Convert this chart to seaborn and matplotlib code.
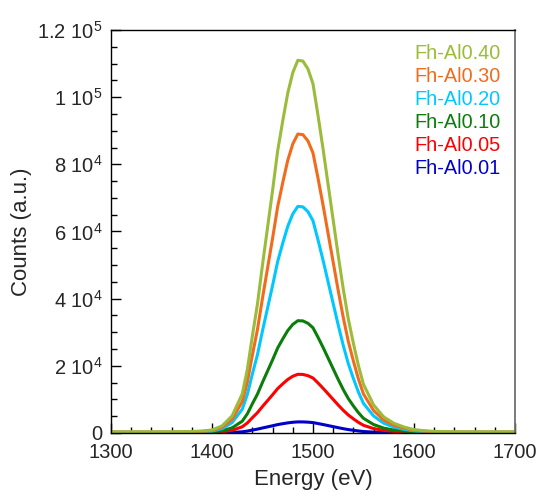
import matplotlib
matplotlib.use("Agg")
import matplotlib.pyplot as plt
from matplotlib.ticker import MultipleLocator, FixedLocator, FixedFormatter
from matplotlib.lines import Line2D
import seaborn as sns
import pandas as pd

# ---- data ----
energy = [1300, 1320, 1340, 1360, 1380, 1390, 1400, 1410, 1420, 1430,
          1435, 1440, 1445, 1450, 1455, 1460, 1465, 1470, 1475, 1480,
          1485, 1490, 1495, 1500, 1505, 1510, 1515, 1520, 1525, 1530,
          1535, 1540, 1545, 1550, 1560, 1570, 1580, 1590, 1600, 1610,
          1620, 1640, 1660, 1680, 1700]

al040 = [330, 330, 330, 330, 450, 560, 890, 2110, 5120, 11680,
         18900, 28910, 38360, 50040, 61160, 72280, 83960, 92850, 101190, 107310,
         110980, 110760, 108420, 103970, 94520, 84510, 73950, 63380, 52820, 42810,
         33920, 26690, 20020, 14460, 8340, 4780, 2890, 1780, 1000, 670,
         450, 330, 330, 330, 330]
al030 = [270, 270, 270, 270, 360, 450, 710, 1700, 4100, 9370,
         15160, 23190, 30770, 40140, 49060, 57980, 67350, 74480, 81170, 86080,
         89020, 88840, 86970, 83400, 75820, 67790, 59320, 50840, 42370, 34340,
         27210, 21410, 16060, 11600, 6690, 3840, 2320, 1430, 800, 540,
         360, 270, 270, 270, 270]
al020 = [200, 200, 200, 200, 270, 340, 540, 1280, 3110, 7100,
         11490, 17580, 23320, 30420, 37180, 43940, 51040, 56450, 61520, 65230,
         67470, 67330, 65910, 63210, 57460, 51380, 44950, 38530, 32110, 26030,
         20620, 16220, 12170, 8790, 5070, 2910, 1760, 1080, 610, 410,
         270, 200, 200, 200, 200]
al010 = [100, 100, 100, 100, 130, 170, 270, 640, 1540, 3520,
         5700, 8710, 11560, 15080, 18430, 21780, 25290, 27970, 30490, 32330,
         33430, 33370, 32660, 31320, 28480, 25460, 22280, 19100, 15910, 12900,
         10220, 8040, 6030, 4360, 2510, 1440, 870, 540, 300, 200,
         130, 100, 100, 100, 100]
al005 = [50, 50, 50, 50, 70, 90, 140, 330, 810, 1840,
         2980, 4550, 6040, 7880, 9630, 11380, 13210, 14610, 15930, 16890,
         17470, 17430, 17060, 16360, 14880, 13300, 11640, 9980, 8310, 6740,
         5340, 4200, 3150, 2280, 1310, 750, 460, 280, 160, 110,
         70, 50, 50, 50, 50]
al001 = [10, 10, 10, 10, 13, 17, 26, 63, 152, 347,
         561, 858, 1139, 1485, 1815, 2145, 2492, 2756, 3003, 3185,
         3293, 3287, 3218, 3086, 2805, 2508, 2195, 1881, 1568, 1271,
         1007, 792, 594, 429, 248, 142, 86, 53, 30, 20,
         13, 10, 10, 10, 10]

series_names = ["Fh-Al0.01", "Fh-Al0.05", "Fh-Al0.10", "Fh-Al0.20", "Fh-Al0.30", "Fh-Al0.40"]
series_values = [al001, al005, al010, al020, al030, al040]
series_colors = ["#0000CC", "#FF0000", "#0A7D0A", "#00C8FF", "#F26B1D", "#9BBB3B"]

y_ticks = [0, 20000, 40000, 60000, 80000, 100000, 120000]
y_tick_labels = ["0", r"2 10$^{4}$", r"4 10$^{4}$", r"6 10$^{4}$",
                 r"8 10$^{4}$", r"1 10$^{5}$", r"1.2 10$^{5}$"]

# ---- build table ----
rows = []
for name, vals in zip(series_names, series_values):
    for e, v in zip(energy, vals):
        rows.append({"Energy": e, "Counts": v, "Sample": name})
df = pd.DataFrame(rows)

sns.set_style("ticks")
plt.rcParams["font.family"] = ["Liberation Sans", "DejaVu Sans"]
plt.rcParams["mathtext.fontset"] = "custom"
plt.rcParams["mathtext.rm"] = "Liberation Sans"
plt.rcParams["mathtext.it"] = "Liberation Sans:italic"
plt.rcParams["mathtext.bf"] = "Liberation Sans:bold"

fig = plt.figure(figsize=(5.37, 4.92), dpi=100)
ax = fig.add_axes([0.2067, 0.12, 0.7523, 0.819])

sns.lineplot(data=df, x="Energy", y="Counts", hue="Sample",
             hue_order=series_names, palette=series_colors,
             linewidth=2.2, ax=ax, legend=False)

ax.set_xlim(1300, 1700)
ax.set_ylim(0, 120000)
ax.xaxis.set_major_locator(MultipleLocator(100))
ax.xaxis.set_minor_locator(MultipleLocator(20))
ax.yaxis.set_major_locator(FixedLocator(y_ticks))
ax.yaxis.set_major_formatter(FixedFormatter(y_tick_labels))
ax.yaxis.set_minor_locator(MultipleLocator(5000))

ax.tick_params(which="both", direction="in", top=False, right=False,
               labelsize=14.5, color="black", width=1.0)
ax.tick_params(which="major", length=7)
ax.tick_params(which="minor", length=4)
ax.tick_params(axis="x", which="major", pad=7)
ax.tick_params(axis="y", which="major", pad=6)

for side in ["left", "bottom", "top"]:
    ax.spines[side].set_color("black")
    ax.spines[side].set_linewidth(1.0)
ax.spines["right"].set_color("#707070")
ax.spines["right"].set_linewidth(1.3)

ax.set_xlabel("Energy (eV)", fontsize=16, labelpad=5)
ax.set_ylabel("Counts (a.u.)", fontsize=16, labelpad=4)

handles = [Line2D([], [], linestyle="none") for _ in series_names]
leg = ax.legend(handles[::-1], series_names[::-1], loc="upper right",
                bbox_to_anchor=(0.975, 0.975), frameon=False,
                handlelength=0, handletextpad=0, fontsize=14.3,
                labelspacing=0.2, borderaxespad=0, borderpad=0.2,
                labelcolor=series_colors[::-1])

fig.savefig("out.png", dpi=100)
